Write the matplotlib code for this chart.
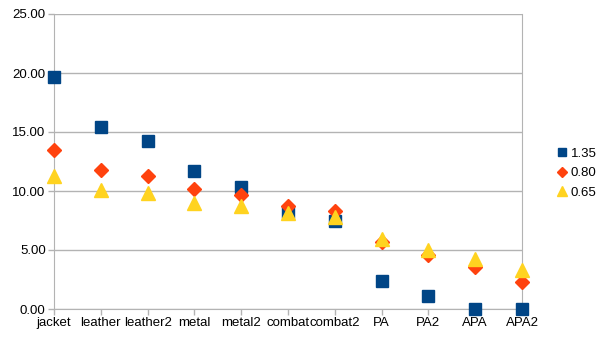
import matplotlib.pyplot as plt
import numpy as np

plt.rcParams['font.family'] = ['Liberation Sans', 'DejaVu Sans']

# categorias y series
categorias = ['jacket', 'leather', 'leather2', 'metal', 'metal2', 'combat',
              'combat2', 'PA', 'PA2', 'APA', 'APA2']
serie_135 = [19.7, 15.4, 14.2, 11.7, 10.3, 8.2, 7.5, 2.4, 1.1, 0.0, 0.0]
serie_080 = [13.5, 11.8, 11.3, 10.2, 9.7, 8.7, 8.3, 5.7, 4.6, 3.6, 2.3]
serie_065 = [11.3, 10.1, 9.8, 9.0, 8.7, 8.1, 7.8, 5.9, 5.0, 4.2, 3.3]
etiquetas_y = ['0.00', '5.00', '10.00', '15.00', '20.00', '25.00']

fig = plt.figure(figsize=(6.05, 3.4), dpi=100)
ax = fig.add_axes([54 / 605, 31 / 340, 468 / 605, 295 / 340])

x = np.arange(len(categorias))
ax.plot(x, serie_135, 's', color='#004586', markersize=8.5, label='1.35',
        clip_on=False, zorder=3)
ax.plot(x, serie_080, 'D', color='#ff420e', markersize=7, label='0.80',
        clip_on=False, zorder=4)
ax.plot(x, serie_065, '^', color='#ffd320', markersize=9.5, label='0.65',
        clip_on=False, zorder=5)

ax.set_xlim(0, len(categorias) - 1)
ax.set_ylim(0, 25)
ax.set_xticks(x)
ax.set_xticklabels(categorias, fontsize=9.5)
ax.set_yticks(np.arange(0, 26, 5))
ax.set_yticklabels(etiquetas_y, fontsize=9.5)
ax.yaxis.grid(True, color='#b3b3b3', linewidth=1)
ax.set_axisbelow(True)
for lado in ['left', 'bottom', 'right', 'top']:
    ax.spines[lado].set_color('#b3b3b3')
ax.spines['top'].set_visible(False)
ax.tick_params(axis='both', colors='#b3b3b3', labelcolor='black', length=4,
               width=1, pad=2)

fig.legend(loc='center left', bbox_to_anchor=(549 / 605, 167 / 340),
           frameon=False, fontsize=9.5, handletextpad=0.15, labelspacing=0.55,
           handlelength=1.0, borderpad=0, markerscale=0.75)

plt.savefig('out.png', dpi=100)
